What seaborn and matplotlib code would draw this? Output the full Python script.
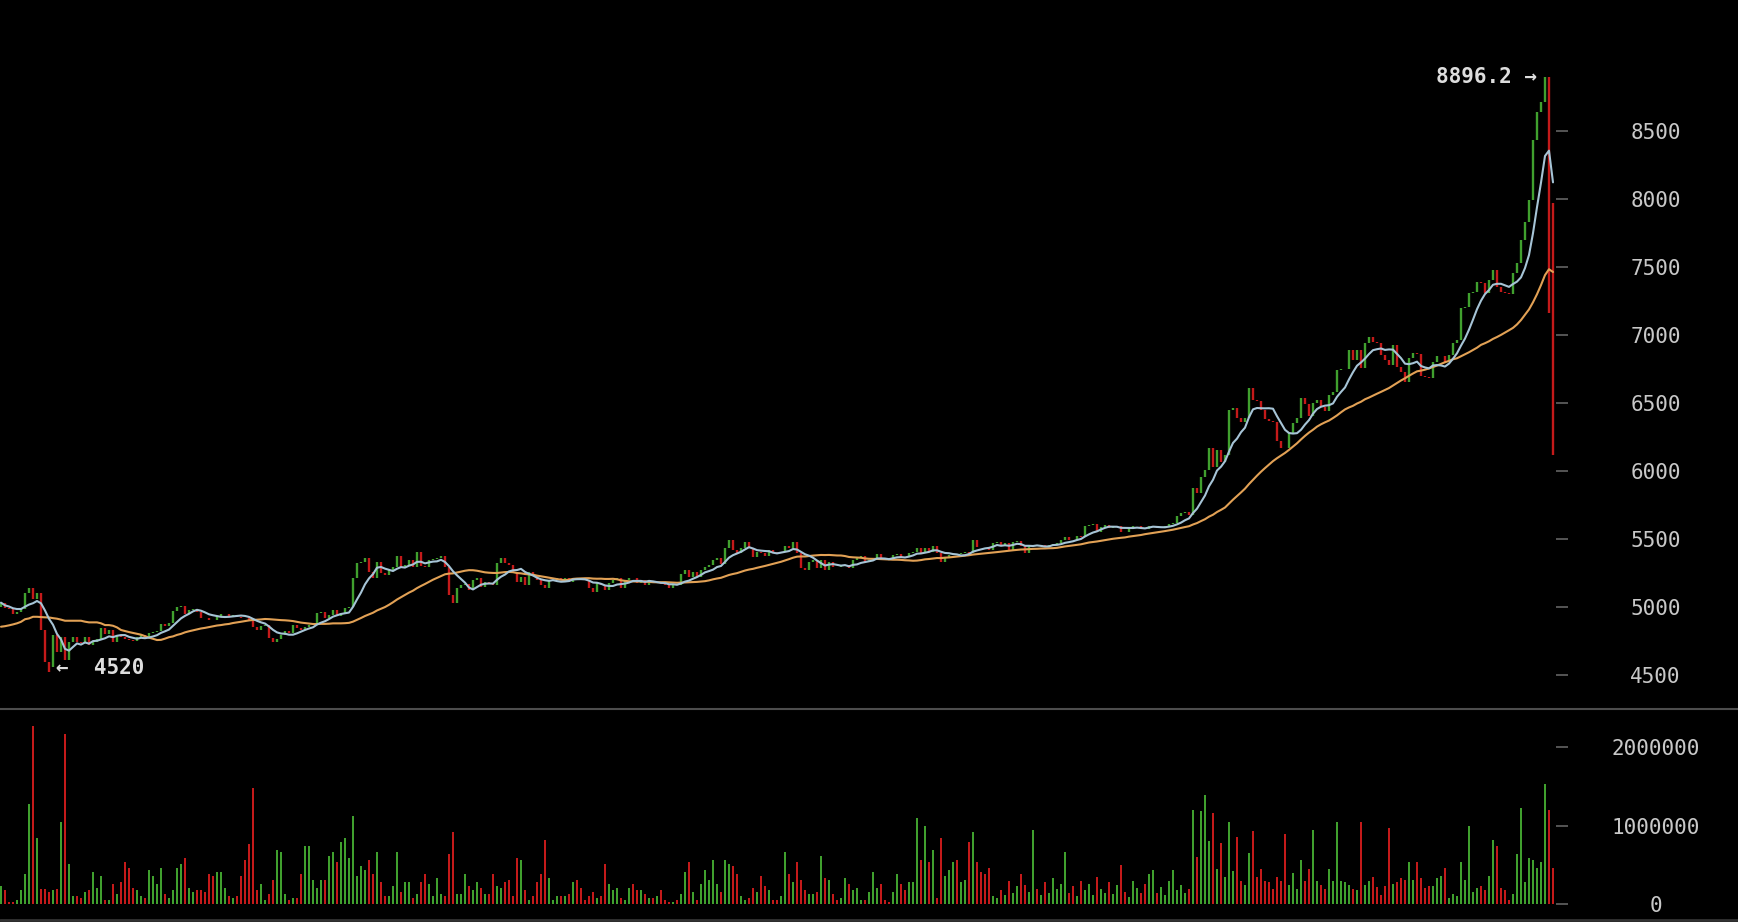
import numpy as np
import pandas as pd
import matplotlib
matplotlib.use('Agg')
import matplotlib.pyplot as plt
from matplotlib.lines import Line2D
from matplotlib.ticker import FuncFormatter
import seaborn as sns

# Daily closes (one value per candle, left to right)
closes = [
    5030, 4990, 4985, 4950, 4960, 4985, 5100, 5140, 5060, 5100,
    4830, 4590, 4560, 4790, 4670, 4780, 4610, 4740, 4780, 4740,
    4730, 4780, 4720, 4740, 4760, 4845, 4800, 4830, 4740, 4790,
    4775, 4760, 4755, 4750, 4780, 4790, 4770, 4810, 4815, 4820,
    4870, 4860, 4880, 4965, 5000, 5005, 4950, 4975, 4985, 4960,
    4920, 4915, 4905, 4900, 4935, 4945, 4950, 4930, 4940, 4925,
    4920, 4915, 4895, 4850, 4830, 4860, 4865, 4770, 4740, 4765,
    4790, 4820, 4810, 4865, 4840, 4829, 4850, 4865, 4882, 4951,
    4963, 4914, 4939, 4976, 4932, 4951, 4988, 5000, 5208, 5319,
    5331, 5355, 5257, 5208, 5331, 5245, 5233, 5270, 5294, 5373,
    5294, 5306, 5343, 5294, 5405, 5300, 5290, 5343, 5348, 5355,
    5373, 5294, 5086, 5025, 5135, 5160, 5165, 5123, 5196, 5208,
    5147, 5184, 5172, 5160, 5319, 5355, 5319, 5306, 5245, 5184,
    5221, 5160, 5257, 5233, 5196, 5160, 5135, 5191, 5196, 5208,
    5200, 5208, 5184, 5213, 5208, 5200, 5196, 5135, 5110, 5172,
    5160, 5123, 5172, 5196, 5208, 5135, 5196, 5213, 5208, 5172,
    5196, 5160, 5184, 5172, 5175, 5170, 5160, 5135, 5160, 5158,
    5240, 5270, 5221, 5257, 5221, 5270, 5289, 5306, 5343, 5355,
    5314, 5429, 5490, 5417, 5392, 5429, 5478, 5429, 5363, 5404,
    5392, 5373, 5417, 5404, 5392, 5404, 5446, 5429, 5478, 5392,
    5282, 5270, 5331, 5343, 5282, 5343, 5270, 5331, 5294, 5290,
    5306, 5308, 5282, 5343, 5355, 5372, 5331, 5343, 5355, 5385,
    5349, 5345, 5340, 5380, 5388, 5368, 5365, 5393, 5405, 5430,
    5393, 5430, 5405, 5447, 5393, 5331, 5368, 5380, 5388, 5385,
    5393, 5405, 5393, 5491, 5442, 5440, 5438, 5420, 5466, 5478,
    5454, 5466, 5417, 5478, 5480, 5447, 5393, 5454, 5456, 5447,
    5454, 5447, 5454, 5461, 5466, 5491, 5515, 5491, 5490, 5520,
    5515, 5594, 5601, 5608, 5552, 5589, 5601, 5576, 5594, 5596,
    5552, 5550, 5589, 5594, 5596, 5576, 5575, 5594, 5596, 5576,
    5580, 5593, 5608, 5618, 5667, 5686, 5699, 5674, 5870, 5833,
    5956, 6005, 6164, 6030, 6152, 6066, 6115, 6446, 6458, 6385,
    6360, 6385, 6605, 6520, 6515, 6446, 6380, 6365, 6360, 6220,
    6170, 6165, 6280, 6353, 6385, 6532, 6490, 6400, 6495, 6520,
    6471, 6441, 6556, 6581, 6740, 6745, 6750, 6887, 6814, 6887,
    6752, 6936, 6980, 6949, 6936, 6851, 6814, 6777, 6924, 6765,
    6728, 6650, 6826, 6863, 6858, 6700, 6690, 6680, 6802, 6843,
    6845, 6802, 6851, 6941, 6961, 7194, 7206, 7304, 7317, 7390,
    7378, 7304, 7402, 7476, 7353, 7317, 7310, 7300, 7451, 7525,
    7696, 7831, 7990, 8432, 8640, 8714, 8896.2, 7970, 6200,
]
first_open = 5000

# Wick extremes that reach past the bodies
wick_lows = {12: 4520, 387: 7160, 388: 6115}

# slow average as drawn for the first candles (its window reaches back before the chart)
slow_ma_head = [
    4853, 4857, 4863, 4870, 4878, 4889, 4908, 4914, 4926, 4926,
    4924, 4922, 4921, 4916, 4912, 4905, 4897, 4897, 4897, 4897,
    4897, 4890, 4885, 4885, 4885, 4878, 4865, 4865, 4860, 4848,
]

# Volume per candle, in thousands
volumes_k = [
    229, 178, 30, 30, 51, 178, 381, 1271, 2263, 839,
    199, 199, 153, 178, 199, 1043, 2161, 509, 102, 102,
    76, 153, 178, 407, 203, 356, 51, 51, 254, 127,
    280, 534, 458, 203, 178, 102, 76, 432, 356, 254,
    458, 127, 76, 178, 458, 509, 585, 203, 153, 178,
    178, 153, 381, 356, 407, 407, 203, 102, 76, 102,
    356, 559, 763, 1475, 178, 254, 51, 127, 305, 687,
    661, 127, 51, 76, 76, 381, 737, 737, 305, 203,
    305, 305, 610, 661, 534, 788, 839, 585, 1119, 356,
    483, 432, 559, 381, 661, 280, 102, 102, 229, 661,
    153, 280, 280, 76, 127, 280, 381, 254, 102, 331,
    127, 102, 636, 915, 127, 127, 381, 229, 178, 280,
    203, 127, 127, 381, 229,
    203, 280, 305, 102, 585, 559, 178, 51, 102, 280,
    381, 814, 331, 51, 102, 102, 102, 127, 280, 305,
    203, 51, 102, 153, 76, 102, 509, 254, 178, 203,
    76, 51, 203, 254, 178, 178, 127, 76, 76, 102,
    178, 51, 25, 25, 51, 127, 407, 534, 153, 51,
    254, 432, 305, 559, 254, 153, 559, 509, 483, 381,
    102, 51, 76, 203, 153, 356, 229, 178, 51, 51,
    102, 661, 381, 280, 534, 305, 178, 127, 127, 153,
    610, 331, 305, 127, 51, 76, 331, 254, 178, 203,
    51, 51, 153, 407, 203, 254, 51, 25, 153, 381,
    254, 178, 280, 280, 1093, 559, 992, 534, 687, 76,
    839, 356, 432, 534, 559, 280, 305, 788, 915, 534,
    407, 381, 458, 102, 76,
    180, 120, 300, 150, 230, 380, 250, 160, 940, 200,
    120, 280, 150, 330, 200, 260, 660, 150, 230, 100,
    300, 180, 260, 120, 350, 200, 150, 280, 130, 240,
    500, 160, 90, 300, 210, 140, 260, 380, 440, 150,
    220, 120, 300, 440, 180, 250, 140, 200, 1200, 600,
    1180, 1390, 800, 1160, 450, 780, 350, 1050, 420, 850,
    300, 250, 650, 930, 350, 450, 300, 280, 200, 350,
    300, 900, 250, 400, 200, 560, 300, 450, 950, 300,
    250, 200, 450, 300, 1050, 300, 280, 250, 200, 180,
    1050, 250, 300, 350, 220,
    119, 233, 966, 259, 284, 331, 309, 542, 309, 542,
    331, 203, 233, 233, 335, 360, 458, 76, 131, 106,
    542, 309, 996, 157, 203, 233, 182, 360, 818, 742,
    203, 182, 55, 131, 640, 1220, 288, 585, 564, 458,
    542, 1530, 1199, 458,
]

price_ticks = [4500, 5000, 5500, 6000, 6500, 7000, 7500, 8000, 8500]
volume_ticks = [0, 1000000, 2000000]

UP = '#40a02e'
DOWN = '#c41a1a'
FAST_MA = '#a6c4d6'
SLOW_MA = '#e2a155'
TEXT = '#c8c8c8'
TICK = '#555555'

sns.set_theme(style='dark', rc={'axes.facecolor': 'black', 'figure.facecolor': 'black'})
plt.rcParams['font.family'] = ['DejaVu Sans Mono', 'DejaVu Sans']

df = pd.DataFrame({'idx': np.arange(len(closes)), 'close': closes,
                   'volume': np.array(volumes_k) * 1000.0})
df['open'] = df['close'].shift(1).fillna(first_open)
df['up'] = df['close'] >= df['open']
df['low'] = df[['open', 'close']].min(axis=1)
df['high'] = df[['open', 'close']].max(axis=1)
for k, v in wick_lows.items():
    df.loc[k, 'low'] = v
df['ma_fast'] = df['close'].rolling(7, min_periods=1).mean()
df['ma_slow'] = df['close'].rolling(30, min_periods=30).mean()
df.loc[:len(slow_ma_head) - 1, 'ma_slow'] = slow_ma_head
colors = np.where(df['up'], UP, DOWN)

fig = plt.figure(figsize=(17.38, 9.22), dpi=100)
split = 1 - 709 / 922
right = 1556 / 1738
ax = fig.add_axes([0, split, right, 1 - split])
axv = fig.add_axes([0, 0, right, split])

# candles
ax.vlines(df['idx'], df['low'], df['high'], colors=colors, linewidth=1.7, zorder=2)
sns.lineplot(data=df, x='idx', y='ma_slow', ax=ax, color=SLOW_MA, linewidth=1.5, zorder=3)
sns.lineplot(data=df, x='idx', y='ma_fast', ax=ax, color=FAST_MA, linewidth=1.5, zorder=4)

# high / low markers
hi_i = int(df['high'].idxmax())
lo_i = int(df['low'].idxmin())
ax.annotate(f"{df['high'].max()} \u2192", xy=(hi_i, df['high'].max()), xytext=(-6, 0),
            textcoords='offset points', ha='right', va='center',
            color='#dddddd', fontsize=15, fontweight='bold')
ax.annotate(f"\u2190  {df['low'].min():.0f}", xy=(lo_i, df['low'].min()), xytext=(5, 3),
            textcoords='offset points', ha='left', va='center',
            color='#dddddd', fontsize=15, fontweight='bold')

# volume
axv.bar(df['idx'], df['volume'], width=0.55, color=colors, linewidth=0)

xlim = (-0.25, 388.75)
for a in (ax, axv):
    a.set_xlim(*xlim)
    a.set_facecolor('black')
    a.grid(False)
    a.set_xticks([])
    a.set_xlabel('')
    a.set_ylabel('')
    for s in a.spines.values():
        s.set_visible(False)
    a.yaxis.tick_right()
    a.tick_params(axis='y', direction='out', length=8.6, width=1.4, color=TICK,
                  pad=63, labelsize=15, labelcolor=TEXT, right=True, left=False)

ax.set_ylim(4248, 9461)
ax.set_yticks(price_ticks)
axv.set_ylim(-225000, 2483000)
axv.set_yticks(volume_ticks)
axv.yaxis.set_major_formatter(FuncFormatter(lambda v, p: f'{int(v)}'))
for a in (ax, axv):
    for lbl in a.get_yticklabels():
        lbl.set_horizontalalignment('center')

fig.add_artist(Line2D([0, 1], [split, split], transform=fig.transFigure,
                      color='#4d4d4d', linewidth=1.5))
fig.add_artist(Line2D([0, 1], [2 / 922, 2 / 922], transform=fig.transFigure,
                      color='#333333', linewidth=2))

fig.savefig('out.png', dpi=100, facecolor='black')
